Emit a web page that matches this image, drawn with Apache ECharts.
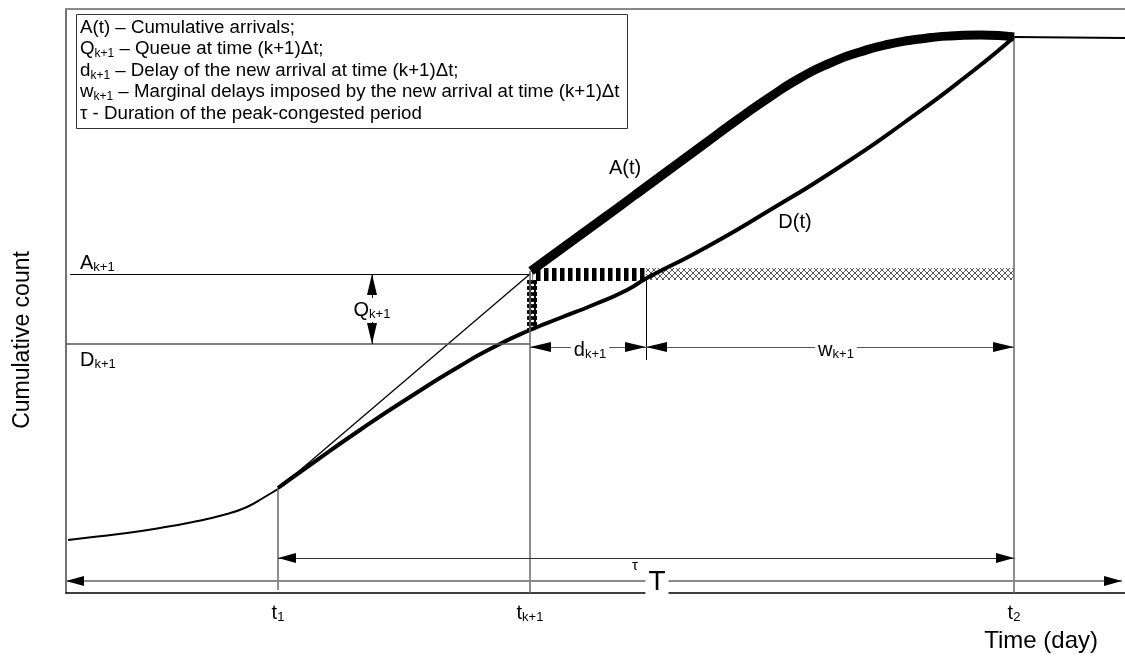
<!DOCTYPE html>
<html><head><meta charset="utf-8">
<script src="https://cdn.jsdelivr.net/npm/echarts@6/dist/echarts.min.js"></script>
<style>html,body{margin:0;padding:0;background:#fff}#c{width:1125px;height:658px}</style>
</head><body><div id="c"></div>
<script>
// Conceptual diagram: time and cumulative count in arbitrary units
const X_MAX = 1059, Y_MAX = 584;
const tickValues = [212, 464, 948];                 // t1, t(k+1), t2
const tickLabels = ['{m|t}{s|1}', '{m|t}{s|k+1}', '{m|t}{s|2}'];

// early part of the cumulative curve (before congestion)
const preTime  = [2, 27, 61, 94, 127, 161, 181, 197, 212];
const preCount = [53, 56, 60, 65, 71, 79, 86, 95, 104];
// straight chord from t1 to A(k+1)
const chordTime  = [212, 464];
const chordCount = [104, 319];
// D(t) cumulative departures
const depTime  = [212, 244, 294, 344, 394, 427, 464, 494, 527, 561, 581, 637, 704, 772, 839, 907, 948];
const depCount = [105, 128, 163, 196, 227, 245.5, 263, 275, 288, 303, 315, 344, 383, 425, 471, 522, 556];
// A(t) cumulative arrivals (congested part)
const arrTime  = [465, 502, 535, 569, 603, 637, 671, 704, 734, 764, 794, 824, 854, 884, 914, 948];
const arrCount = [322, 349, 373, 398, 423, 448, 473, 496, 515, 530, 541, 549, 554, 557, 558, 556];
// after t2
const postTime  = [948, 1059];
const postCount = [556, 555];

const tK1 = 464, t1 = 212, t2 = 948;
const dEnd = 580;              // departure time of the (k+1)th arrival
const aK1 = 319, dK1 = 249;    // A(k+1), D(k+1)
const qX = 306;                // where Q(k+1) is measured
const dwY = 246;               // level of d / w arrows
const tauY = 35, bigTY = 12;   // levels of tau and T arrows

const legendLines = [
  '{m|A(t) – Cumulative arrivals;}',
  '{m|Q}{s|k+1}{m| – Queue at time (k+1)Δt;}',
  '{m|d}{s|k+1}{m| – Delay of the new arrival at time (k+1)Δt;}',
  '{m|w}{s|k+1}{m| – Marginal delays imposed by the new arrival at time (k+1)Δt}',
  '{m|τ - Duration of the peak-congested period}'
];

const FONT = '"Liberation Sans", Arial, Helvetica, sans-serif';
const zip = (xs, ys) => xs.map((x, i) => [x, ys[i]]);

function pat(w, h, draw) {
  const c = document.createElement('canvas'); c.width = w; c.height = h;
  draw(c.getContext('2d')); return { image: c, repeat: 'repeat' };
}
const stripePat = pat(8, 4, g => { g.fillStyle = '#fff'; g.fillRect(0, 0, 8, 4); g.fillStyle = '#000'; g.fillRect(0, 0, 4.5, 4); });
const crossPat = pat(6, 6, g => {
  g.fillStyle = '#fff'; g.fillRect(0, 0, 6, 6);
  g.strokeStyle = '#555'; g.lineWidth = 1; g.beginPath();
  g.moveTo(0, 0); g.lineTo(6, 6); g.moveTo(6, 0); g.lineTo(0, 6); g.stroke();
});
const checkPat = pat(5, 6, g => {
  g.fillStyle = '#000'; g.fillRect(0, 0, 5, 6);
  g.fillStyle = '#fff'; g.beginPath(); g.ellipse(2.5, 3, 1.7, 1.2, 0, 0, 2 * Math.PI); g.fill();
});

const richA = {
  m: { fontFamily: FONT, fontSize: 20, color: '#000', lineHeight: 22 },
  s: { fontFamily: FONT, fontSize: 13, color: '#000', lineHeight: 14, verticalAlign: 'bottom' }
};
const richL = {
  m: { fontFamily: FONT, fontSize: 18.7, color: '#000', lineHeight: 21.5 },
  s: { fontFamily: FONT, fontSize: 12, color: '#000', lineHeight: 13, verticalAlign: 'bottom' }
};

const seg = (x1, y1, x2, y2, ls) => [{ coord: [x1, y1], lineStyle: ls }, { coord: [x2, y2] }];
// arrow heads only (black), the shaft is drawn separately with seg()
const heads = (x1, y1, x2, y2, w, h) => {
  const end = { symbol: 'triangle', symbolSize: [w, h], symbolOffset: [0, h / 2] };
  return [Object.assign({ coord: [x1, y1], lineStyle: { color: '#000', width: 0 } }, end),
          Object.assign({ coord: [x2, y2] }, end)];
};
const thinGray = { color: '#666', width: 1.5, type: 'solid' };

const lbl = (x, y, text, extra) => ({ value: [x, y], label: Object.assign({ formatter: text }, extra || {}) });
const whiteBg = { backgroundColor: '#fff', padding: [1, 3] };

const option = {
  animation: false,
  title: {
    text: legendLines.join('\n'),
    left: 76, top: 14,
    padding: [3, 8, 4, 4],
    borderColor: '#333', borderWidth: 1, backgroundColor: '#fff',
    textStyle: { fontFamily: FONT, fontSize: 18.7, fontWeight: 'normal', color: '#000', lineHeight: 21.5, rich: richL }
  },
  grid: { left: 66, right: 0, top: 9, bottom: 65, containLabel: false },
  xAxis: [{
    type: 'value', min: 0, max: X_MAX,
    axisLine: { show: true, lineStyle: { color: '#000', width: 1.5 } },
    axisTick: { show: false }, splitLine: { show: false },
    axisLabel: {
      customValues: tickValues, margin: 9,
      formatter: v => tickLabels[tickValues.indexOf(v)] || '',
      rich: richA
    }
  }, {
    type: 'value', min: 0, max: X_MAX, position: 'top',
    axisLine: { show: true, lineStyle: { color: '#888', width: 2 } },
    axisTick: { show: false }, splitLine: { show: false }, axisLabel: { show: false }
  }],
  yAxis: {
    type: 'value', min: 0, max: Y_MAX,
    axisLine: { show: true, lineStyle: { color: '#444', width: 1.5 } },
    axisTick: { show: false }, splitLine: { show: false }, axisLabel: { show: false }
  },
  graphic: [
    { type: 'text', x: 23, y: 340, rotation: Math.PI / 2,
      style: { text: 'Cumulative count', fontSize: 23, fontFamily: FONT, fill: '#000', align: 'center', verticalAlign: 'middle' } },
    { type: 'text', x: 1098, y: 641,
      style: { text: 'Time (day)', fontSize: 24, fontFamily: FONT, fill: '#000', align: 'right', verticalAlign: 'middle' } }
  ],
  series: [
    { name: 'pre', type: 'line', data: zip(preTime, preCount), smooth: 0.5, symbol: 'none',
      lineStyle: { color: '#000', width: 2 }, z: 3 },
    { name: 'chord', type: 'line', data: zip(chordTime, chordCount), symbol: 'none',
      lineStyle: { color: '#000', width: 1.3 }, z: 3 },
    { name: 'D(t)', type: 'line', data: zip(depTime, depCount), smooth: 0.6, symbol: 'none',
      lineStyle: { color: '#000', width: 4 }, z: 4 },
    { name: 'A(t)', type: 'line', data: zip(arrTime, arrCount), smooth: 0.6, symbol: 'none',
      lineStyle: { color: '#000', width: 9 }, z: 5 },
    { name: 'post', type: 'line', data: zip(postTime, postCount), symbol: 'none',
      lineStyle: { color: '#000', width: 2 }, z: 3 },
    // guide lines, arrow shafts and hatched bars
    { name: 'guides', type: 'line', data: [], symbol: 'none', z: 2,
      markLine: {
        silent: true, symbol: 'none', label: { show: false },
        data: [
          seg(4, aK1, tK1, aK1, { color: '#000', width: 1, type: 'solid' }),
          seg(0, dK1, tK1, dK1, { color: '#555', width: 1.5, type: 'solid' }),
          seg(t1, 3, t1, 104, thinGray),
          seg(tK1, 0, tK1, 322, thinGray),
          seg(t2, 0, t2, 556, thinGray),
          seg(dEnd, 233, dEnd, 315, { color: '#000', width: 1, type: 'solid' }),
          seg(qX, dK1, qX, aK1, { color: '#000', width: 1, type: 'solid' }),
          seg(tK1, dwY, t2, dwY, { color: '#555', width: 1, type: 'solid' }),
          seg(t1, tauY, t2, tauY, { color: '#333', width: 1, type: 'solid' }),
          seg(0, bigTY, X_MAX - 3, bigTY, { color: '#8a8a8a', width: 2, type: 'solid' })
        ]
      },
      markArea: {
        silent: true, label: { show: false },
        data: [
          [{ coord: [466, 312], itemStyle: { color: stripePat, borderWidth: 0 } }, { coord: [dEnd, 325] }],
          [{ coord: [dEnd, 313], itemStyle: { color: crossPat, borderWidth: 0 } }, { coord: [t2, 325] }],
          [{ coord: [461, 264], itemStyle: { color: checkPat, borderWidth: 0 } }, { coord: [471, 313] }]
        ]
      }
    },
    // black arrow heads
    { name: 'arrows', type: 'line', data: [], symbol: 'none', z: 3,
      markLine: {
        silent: true, symbol: ['triangle', 'triangle'], symbolSize: 18,
        label: { show: false },
        data: [
          heads(qX, dK1, qX, aK1, 10, 21),
          heads(tK1, dwY, dEnd, dwY, 10, 21),
          heads(dEnd, dwY, t2, dwY, 10, 21),
          heads(t1, tauY, t2, tauY, 10, 18),
          heads(0, bigTY, X_MAX - 3, bigTY, 10, 18)
        ]
      }
    },
    // text annotations
    { name: 'labels', type: 'scatter', symbolSize: 0, z: 10, silent: true,
      itemStyle: { opacity: 1 },
      label: { show: true, position: 'inside', rich: richA, color: '#000', opacity: 1 },
      data: [
        lbl(559, 425, '{m|A(t)}'),
        lbl(729, 371, '{m|D(t)}'),
        lbl(14, 330, '{m|A}{s|k+1}', { position: 'right', distance: 0 }),
        lbl(14, 233, '{m|D}{s|k+1}', { position: 'right', distance: 0 }),
        lbl(qX, 283, '{m|Q}{s|k+1}', whiteBg),
        lbl(524, 243, '{m|d}{s|k+1}', whiteBg),
        lbl(770, 243, '{m|w}{s|k+1}', whiteBg),
        lbl(569, 27, '{t|τ}', { rich: { t: { fontFamily: FONT, fontSize: 15, color: '#000' } } }),
        lbl(591, 11, '{T|T}', { backgroundColor: '#fff', padding: [0, 3],
          rich: { T: { fontFamily: FONT, fontSize: 28, color: '#000', lineHeight: 26 } } })
      ]
    }
  ]
};
echarts.init(document.getElementById('c')).setOption(option);
</script></body></html>
